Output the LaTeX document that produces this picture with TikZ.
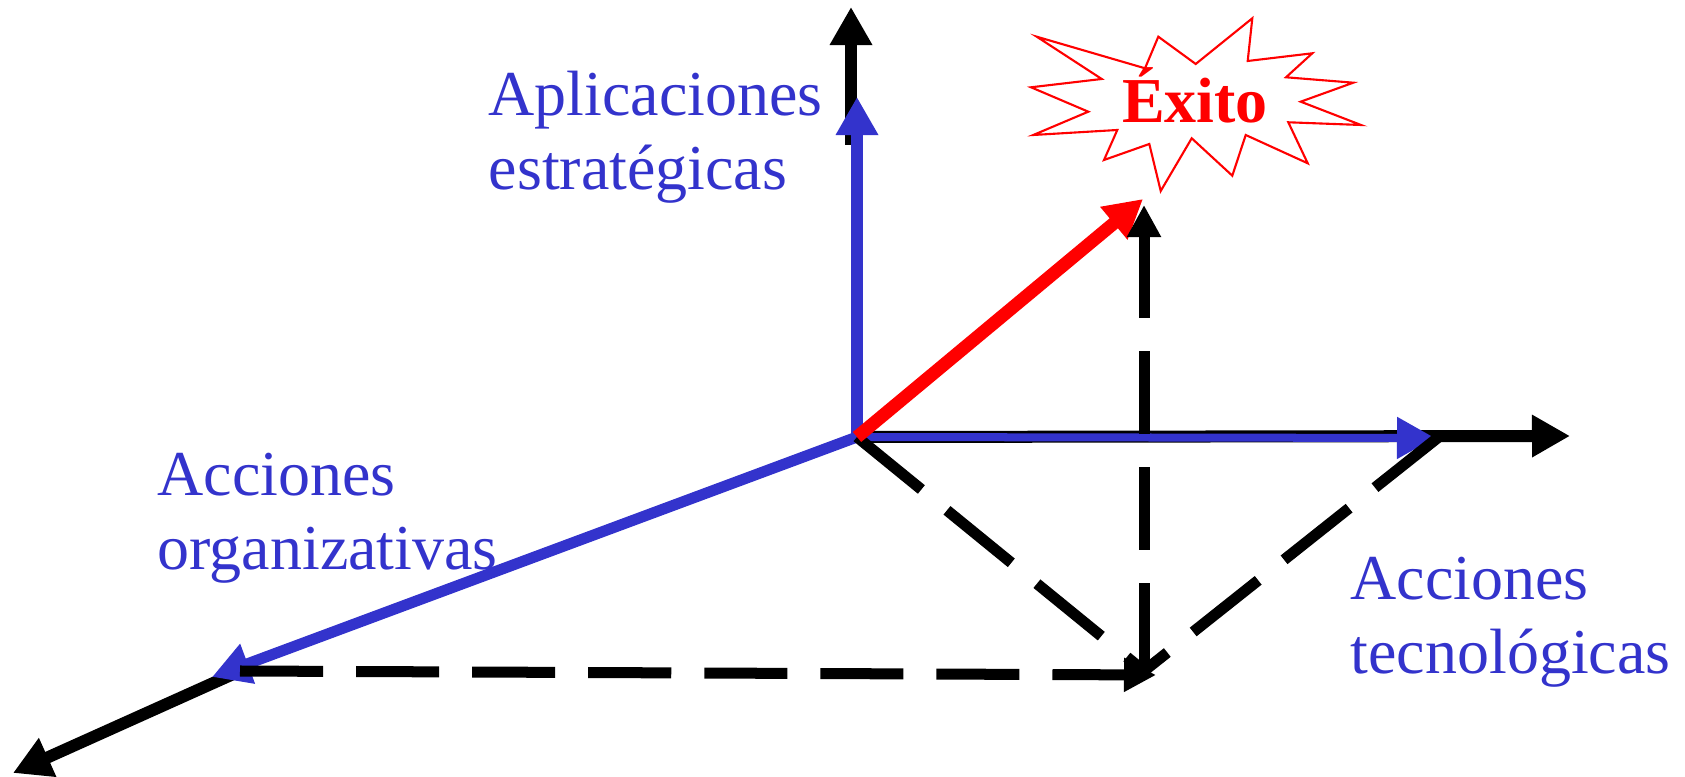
\documentclass[tikz,border=0pt]{standalone}
\usepackage{fontspec}
\setmainfont{Liberation Serif}
\usepackage{xcolor}
\usetikzlibrary{arrows.meta}
\definecolor{ejeazul}{RGB}{51,51,204}

\begin{document}
\begin{tikzpicture}[x=0.01cm, y=-0.01cm,
    >={Triangle[length=0.38cm,width=0.40cm]},
    every node/.style={font=\fontsize{18.2}{21.3}\selectfont, inner sep=0pt},
    ejenegro/.style={line width=0.12cm, ->},
    ejecolor/.style={ejeazul, line width=0.10cm, ->},
    punteada/.style={line width=0.11cm, dash pattern=on 0.83cm off 0.33cm,
      -{Triangle[length=0.32cm,width=0.32cm]}}]
  \useasboundingbox (0,0) rectangle (1685,777);
  % Puntos
  \coordinate (O) at (857,437);
  \coordinate (Vb) at (851,145);
  \coordinate (Vend) at (851,7);
  \coordinate (Vtip) at (857,97);
  \coordinate (Hend) at (1570,436);
  \coordinate (Htip) at (1435,438);
  \coordinate (Ltip) at (212,677);
  \coordinate (Lb) at (240,671);
  \coordinate (Lend) at (13,773);
  \coordinate (T) at (1440,436);
  \coordinate (B) at (1144,671);
  \coordinate (Bh) at (1156,675);
  \coordinate (U) at (1144,205);
  \coordinate (R) at (1143,199);
  % Ejes negros
  \draw[ejenegro] (Vb) -- (Vend);
  \draw[ejenegro] (O) -- (Hend);
  \draw[ejenegro] (Lb) -- (Lend);
  % Ejes azules
  \draw[ejecolor, line width=0.12cm] (O) -- (Vtip);
  \draw[ejecolor, line width=0.08cm] (O) -- (Htip);
  \draw[ejecolor, line width=0.11cm] (O) -- (Ltip);
  % Proyecciones punteadas
  \draw[punteada, -] (O) -- (B);
  \draw[punteada, -] (T) -- (B);
  \draw[punteada] (Lb) -- (Bh);
  % Resultado
  \draw[red, line width=0.13cm, ->] (O) -- (R);
  \draw[punteada, {Triangle[length=0.32cm,width=0.32cm]}-] (U) -- (B);
  % Estrella
  \draw[red, line width=0.6pt, fill=white]
    (1036.7,36.7) -- (1145,68.3) -- (1158.3,36.7) -- (1195.7,64)
    -- (1252.3,18.3) -- (1247.7,61) -- (1312.3,53.3) -- (1286,77.3)
    -- (1353.3,82.7) -- (1300.7,101.7) -- (1361,125) -- (1288.3,122.3)
    -- (1307.7,163.3) -- (1245.7,135) -- (1232.3,175.7) -- (1191.7,138.3)
    -- (1160.7,191) -- (1149.3,144) -- (1104,160) -- (1117.3,130)
    -- (1033.3,135) -- (1088.3,111.7) -- (1031,87.3) -- (1101.7,79) -- cycle;
  \node[red, anchor=base, font=\fontsize{18.2}{21.3}\selectfont\bfseries] (exito) at (1195,123) {Éxito};
  % Etiquetas (ancla en la linea de base de la segunda linea)
  \node[ejeazul, anchor=base west, align=left] (estrat) at (488,190) {Aplicaciones\\estratégicas};
  \node[ejeazul, anchor=base west, align=left] (organiz) at (157,570) {Acciones\\organizativas};
  \node[ejeazul, anchor=base west, align=left] (tecnol) at (1350,674) {Acciones\\tecnológicas};
\end{tikzpicture}
\end{document}
